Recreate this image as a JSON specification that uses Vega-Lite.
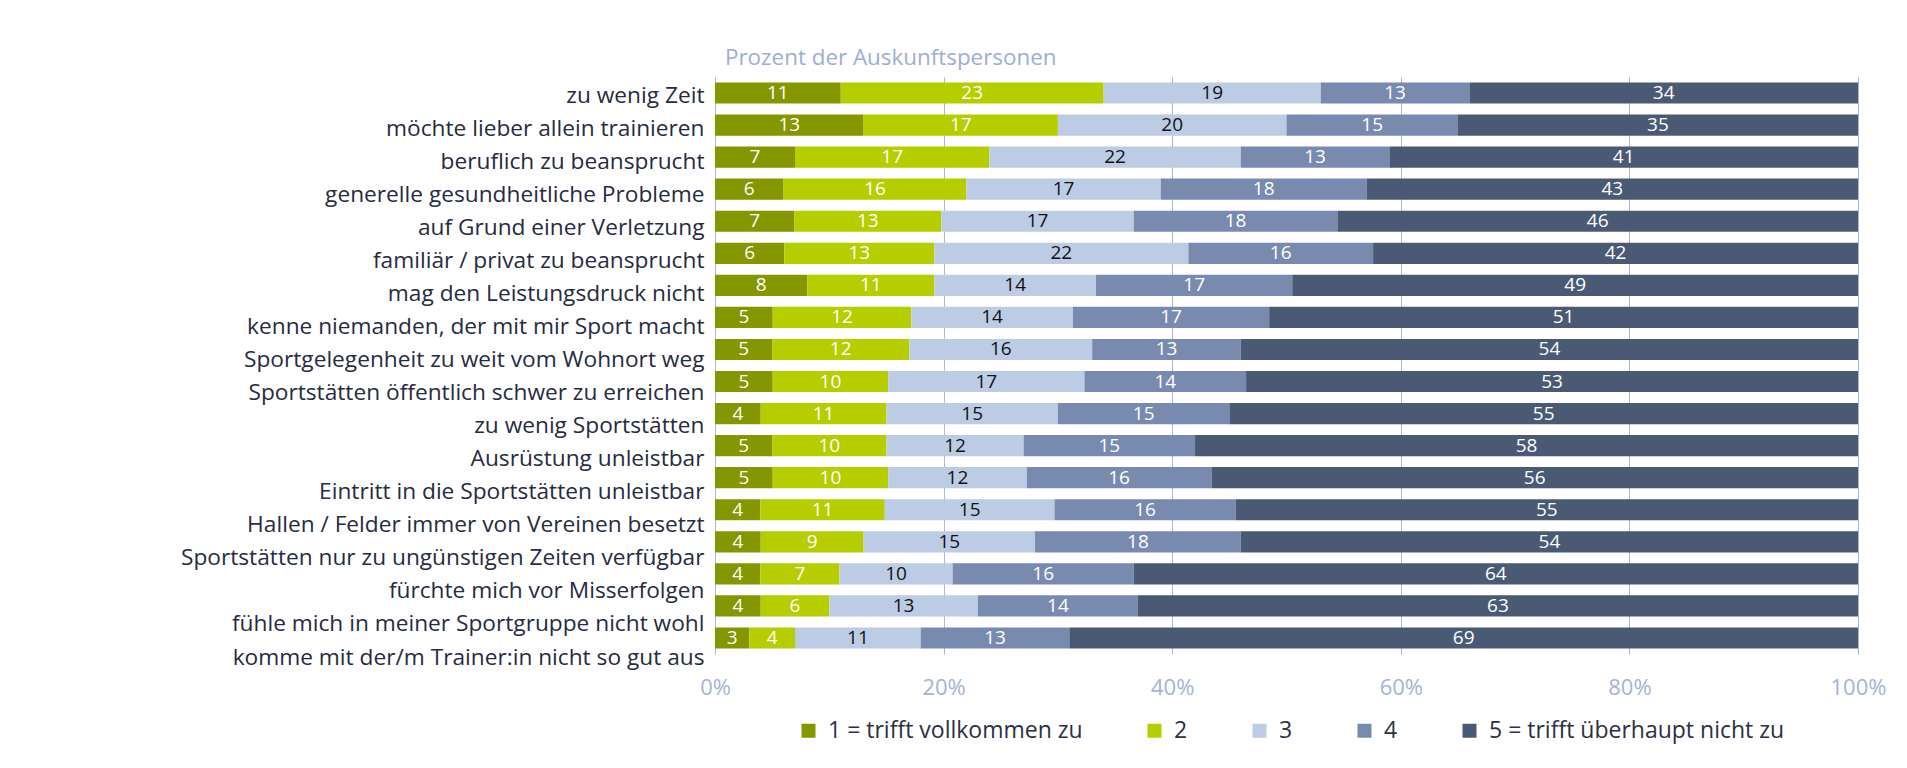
{
  "$schema": "https://vega.github.io/schema/vega-lite/v6.json",
  "width": 1143,
  "height": 577,
  "autosize": {"type": "none"},
  "padding": {"left": 715, "top": 77, "right": 49, "bottom": 114},
  "background": "white",
  "title": {
    "text": "Prozent der Auskunftspersonen",
    "anchor": "start",
    "frame": "group",
    "dx": 10,
    "offset": 8,
    "color": "#9DAED3",
    "font": "Open Sans",
    "fontSize": 22.4,
    "fontWeight": "normal"
  },
  "config": {"view": {"stroke": null}, "font": "Open Sans"},
  "data": {
    "values": [
      {"cat": "zu wenig Zeit", "k": "1 = trifft vollkommen zu", "v": 11},
      {"cat": "zu wenig Zeit", "k": "2", "v": 23},
      {"cat": "zu wenig Zeit", "k": "3", "v": 19},
      {"cat": "zu wenig Zeit", "k": "4", "v": 13},
      {"cat": "zu wenig Zeit", "k": "5 = trifft überhaupt nicht zu", "v": 34},
      {"cat": "möchte lieber allein trainieren", "k": "1 = trifft vollkommen zu", "v": 13},
      {"cat": "möchte lieber allein trainieren", "k": "2", "v": 17},
      {"cat": "möchte lieber allein trainieren", "k": "3", "v": 20},
      {"cat": "möchte lieber allein trainieren", "k": "4", "v": 15},
      {"cat": "möchte lieber allein trainieren", "k": "5 = trifft überhaupt nicht zu", "v": 35},
      {"cat": "beruflich zu beansprucht", "k": "1 = trifft vollkommen zu", "v": 7},
      {"cat": "beruflich zu beansprucht", "k": "2", "v": 17},
      {"cat": "beruflich zu beansprucht", "k": "3", "v": 22},
      {"cat": "beruflich zu beansprucht", "k": "4", "v": 13},
      {"cat": "beruflich zu beansprucht", "k": "5 = trifft überhaupt nicht zu", "v": 41},
      {"cat": "generelle gesundheitliche Probleme", "k": "1 = trifft vollkommen zu", "v": 6},
      {"cat": "generelle gesundheitliche Probleme", "k": "2", "v": 16},
      {"cat": "generelle gesundheitliche Probleme", "k": "3", "v": 17},
      {"cat": "generelle gesundheitliche Probleme", "k": "4", "v": 18},
      {"cat": "generelle gesundheitliche Probleme", "k": "5 = trifft überhaupt nicht zu", "v": 43},
      {"cat": "auf Grund einer Verletzung", "k": "1 = trifft vollkommen zu", "v": 7},
      {"cat": "auf Grund einer Verletzung", "k": "2", "v": 13},
      {"cat": "auf Grund einer Verletzung", "k": "3", "v": 17},
      {"cat": "auf Grund einer Verletzung", "k": "4", "v": 18},
      {"cat": "auf Grund einer Verletzung", "k": "5 = trifft überhaupt nicht zu", "v": 46},
      {"cat": "familiär / privat zu beansprucht", "k": "1 = trifft vollkommen zu", "v": 6},
      {"cat": "familiär / privat zu beansprucht", "k": "2", "v": 13},
      {"cat": "familiär / privat zu beansprucht", "k": "3", "v": 22},
      {"cat": "familiär / privat zu beansprucht", "k": "4", "v": 16},
      {"cat": "familiär / privat zu beansprucht", "k": "5 = trifft überhaupt nicht zu", "v": 42},
      {"cat": "mag den Leistungsdruck nicht", "k": "1 = trifft vollkommen zu", "v": 8},
      {"cat": "mag den Leistungsdruck nicht", "k": "2", "v": 11},
      {"cat": "mag den Leistungsdruck nicht", "k": "3", "v": 14},
      {"cat": "mag den Leistungsdruck nicht", "k": "4", "v": 17},
      {"cat": "mag den Leistungsdruck nicht", "k": "5 = trifft überhaupt nicht zu", "v": 49},
      {"cat": "kenne niemanden, der mit mir Sport macht", "k": "1 = trifft vollkommen zu", "v": 5},
      {"cat": "kenne niemanden, der mit mir Sport macht", "k": "2", "v": 12},
      {"cat": "kenne niemanden, der mit mir Sport macht", "k": "3", "v": 14},
      {"cat": "kenne niemanden, der mit mir Sport macht", "k": "4", "v": 17},
      {"cat": "kenne niemanden, der mit mir Sport macht", "k": "5 = trifft überhaupt nicht zu", "v": 51},
      {"cat": "Sportgelegenheit zu weit vom Wohnort weg", "k": "1 = trifft vollkommen zu", "v": 5},
      {"cat": "Sportgelegenheit zu weit vom Wohnort weg", "k": "2", "v": 12},
      {"cat": "Sportgelegenheit zu weit vom Wohnort weg", "k": "3", "v": 16},
      {"cat": "Sportgelegenheit zu weit vom Wohnort weg", "k": "4", "v": 13},
      {"cat": "Sportgelegenheit zu weit vom Wohnort weg", "k": "5 = trifft überhaupt nicht zu", "v": 54},
      {"cat": "Sportstätten öffentlich schwer zu erreichen", "k": "1 = trifft vollkommen zu", "v": 5},
      {"cat": "Sportstätten öffentlich schwer zu erreichen", "k": "2", "v": 10},
      {"cat": "Sportstätten öffentlich schwer zu erreichen", "k": "3", "v": 17},
      {"cat": "Sportstätten öffentlich schwer zu erreichen", "k": "4", "v": 14},
      {"cat": "Sportstätten öffentlich schwer zu erreichen", "k": "5 = trifft überhaupt nicht zu", "v": 53},
      {"cat": "zu wenig Sportstätten", "k": "1 = trifft vollkommen zu", "v": 4},
      {"cat": "zu wenig Sportstätten", "k": "2", "v": 11},
      {"cat": "zu wenig Sportstätten", "k": "3", "v": 15},
      {"cat": "zu wenig Sportstätten", "k": "4", "v": 15},
      {"cat": "zu wenig Sportstätten", "k": "5 = trifft überhaupt nicht zu", "v": 55},
      {"cat": "Ausrüstung unleistbar", "k": "1 = trifft vollkommen zu", "v": 5},
      {"cat": "Ausrüstung unleistbar", "k": "2", "v": 10},
      {"cat": "Ausrüstung unleistbar", "k": "3", "v": 12},
      {"cat": "Ausrüstung unleistbar", "k": "4", "v": 15},
      {"cat": "Ausrüstung unleistbar", "k": "5 = trifft überhaupt nicht zu", "v": 58},
      {"cat": "Eintritt in die Sportstätten unleistbar", "k": "1 = trifft vollkommen zu", "v": 5},
      {"cat": "Eintritt in die Sportstätten unleistbar", "k": "2", "v": 10},
      {"cat": "Eintritt in die Sportstätten unleistbar", "k": "3", "v": 12},
      {"cat": "Eintritt in die Sportstätten unleistbar", "k": "4", "v": 16},
      {"cat": "Eintritt in die Sportstätten unleistbar", "k": "5 = trifft überhaupt nicht zu", "v": 56},
      {"cat": "Hallen / Felder immer von Vereinen besetzt", "k": "1 = trifft vollkommen zu", "v": 4},
      {"cat": "Hallen / Felder immer von Vereinen besetzt", "k": "2", "v": 11},
      {"cat": "Hallen / Felder immer von Vereinen besetzt", "k": "3", "v": 15},
      {"cat": "Hallen / Felder immer von Vereinen besetzt", "k": "4", "v": 16},
      {"cat": "Hallen / Felder immer von Vereinen besetzt", "k": "5 = trifft überhaupt nicht zu", "v": 55},
      {"cat": "Sportstätten nur zu ungünstigen Zeiten verfügbar", "k": "1 = trifft vollkommen zu", "v": 4},
      {"cat": "Sportstätten nur zu ungünstigen Zeiten verfügbar", "k": "2", "v": 9},
      {"cat": "Sportstätten nur zu ungünstigen Zeiten verfügbar", "k": "3", "v": 15},
      {"cat": "Sportstätten nur zu ungünstigen Zeiten verfügbar", "k": "4", "v": 18},
      {"cat": "Sportstätten nur zu ungünstigen Zeiten verfügbar", "k": "5 = trifft überhaupt nicht zu", "v": 54},
      {"cat": "fürchte mich vor Misserfolgen", "k": "1 = trifft vollkommen zu", "v": 4},
      {"cat": "fürchte mich vor Misserfolgen", "k": "2", "v": 7},
      {"cat": "fürchte mich vor Misserfolgen", "k": "3", "v": 10},
      {"cat": "fürchte mich vor Misserfolgen", "k": "4", "v": 16},
      {"cat": "fürchte mich vor Misserfolgen", "k": "5 = trifft überhaupt nicht zu", "v": 64},
      {"cat": "fühle mich in meiner Sportgruppe nicht wohl", "k": "1 = trifft vollkommen zu", "v": 4},
      {"cat": "fühle mich in meiner Sportgruppe nicht wohl", "k": "2", "v": 6},
      {"cat": "fühle mich in meiner Sportgruppe nicht wohl", "k": "3", "v": 13},
      {"cat": "fühle mich in meiner Sportgruppe nicht wohl", "k": "4", "v": 14},
      {"cat": "fühle mich in meiner Sportgruppe nicht wohl", "k": "5 = trifft überhaupt nicht zu", "v": 63},
      {"cat": "komme mit der/m Trainer:in nicht so gut aus", "k": "1 = trifft vollkommen zu", "v": 3},
      {"cat": "komme mit der/m Trainer:in nicht so gut aus", "k": "2", "v": 4},
      {"cat": "komme mit der/m Trainer:in nicht so gut aus", "k": "3", "v": 11},
      {"cat": "komme mit der/m Trainer:in nicht so gut aus", "k": "4", "v": 13},
      {"cat": "komme mit der/m Trainer:in nicht so gut aus", "k": "5 = trifft überhaupt nicht zu", "v": 69}
    ]
  },
  "layer": [
    {
      "mark": {"type": "bar"},
      "encoding": {
        "y": {"field": "cat", "type": "nominal", "sort": null, "scale": {"paddingInner": 0.34, "paddingOuter": 0.17}, "axis": null},
        "x": {
          "field": "v", "type": "quantitative", "stack": "normalize",
          "scale": {"domain": [0, 1]},
          "axis": {
            "title": null, "format": ".0%", "values": [0, 0.2, 0.4, 0.6, 0.8, 1],
            "grid": true, "gridColor": "#A9B8D8", "gridWidth": 1,
            "ticks": false, "domain": false,
            "labelColor": "#A5B3D4", "labelFontSize": 22, "labelFont": "Open Sans",
            "labelPadding": 23, "labelFlush": false
          }
        },
        "color": {
          "field": "k", "type": "nominal",
          "scale": {
            "domain": ["1 = trifft vollkommen zu", "2", "3", "4", "5 = trifft überhaupt nicht zu"],
            "range": ["#849600", "#B6CD00", "#BDCCE5", "#788BAF", "#4A5A75"]
          },
          "legend": {
            "orient": "none", "legendX": 82, "legendY": 642, "direction": "horizontal",
            "title": null, "symbolType": "square", "symbolSize": 196, "symbolStrokeWidth": 0,
            "labelFontSize": 23, "labelFont": "Open Sans", "labelColor": "#2B3045",
            "labelOffset": 8, "columnPadding": 60, "labelLimit": 400
          }
        },
        "order": {"field": "k"}
      }
    },
    {
      "mark": {"type": "text", "font": "Open Sans", "fontSize": 19, "baseline": "middle", "align": "center"},
      "encoding": {
        "y": {"field": "cat", "type": "nominal", "sort": null, "scale": {"paddingInner": 0.34, "paddingOuter": 0.17}, "axis": null},
        "x": {"field": "v", "type": "quantitative", "stack": "normalize", "bandPosition": 0.5},
        "detail": {"field": "k"},
        "order": {"field": "k"},
        "text": {"field": "v"},
        "color": {"condition": {"test": "datum.k === '3'", "value": "#111111"}, "value": "#FFFFFF"}
      }
    },
    {
      "mark": {"type": "point", "opacity": 0},
      "encoding": {
        "y": {
          "field": "cat", "type": "nominal", "sort": null,
          "scale": {"type": "point", "range": [18, 580], "padding": 0},
          "axis": {
            "orient": "left", "title": null, "ticks": false, "domain": false, "grid": false,
            "labelFontSize": 22.7, "labelFont": "Open Sans", "labelColor": "#262B40",
            "labelPadding": 11, "labelLimit": 700
          }
        }
      }
    }
  ],
  "resolve": {"scale": {"y": "independent"}, "axis": {"y": "independent"}}
}
